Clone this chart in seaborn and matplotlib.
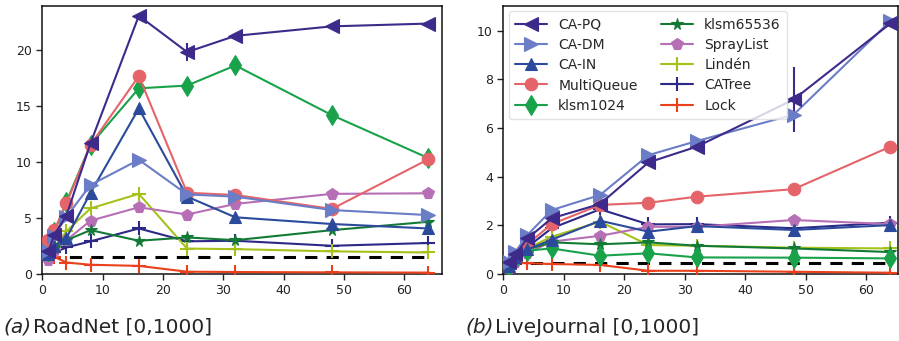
import numpy as np
import pandas as pd
import matplotlib
matplotlib.use("Agg")
import matplotlib.pyplot as plt
import seaborn as sns

threads = [1, 2, 4, 8, 16, 24, 32, 48, 64]
names = ["CA-PQ", "CA-DM", "CA-IN", "MultiQueue", "klsm1024",
         "klsm65536", "SprayList", "Lindén", "CATree", "Lock"]

# RoadNet [0,1000]
road_capq = [2.0, 3.5, 5.2, 11.7, 23.1, 19.85, 21.3, 22.15, 22.4]
road_cadm = [2.0, 3.4, 5.1, 7.95, 10.2, 7.1, 6.9, 5.7, 5.25]
road_cain = [1.8, 2.5, 3.2, 7.25, 14.8, 6.9, 5.05, 4.45, 4.05]
road_mq = [3.0, 3.9, 6.3, 11.55, 17.7, 7.25, 7.05, 5.8, 10.25]
road_k1024 = [2.0, 3.75, 6.45, 11.55, 16.6, 16.85, 18.65, 14.2, 10.35]
road_k65536 = [2.0, 2.3, 3.0, 3.9, 2.95, 3.25, 3.0, 3.9, 4.65]
road_spray = [1.2, 2.0, 3.0, 4.75, 5.95, 5.3, 6.25, 7.15, 7.2]
road_linden = [1.4, 2.4, 3.8, 5.85, 7.15, 2.25, 2.2, 2.0, 1.9]
road_catree = [1.8, 1.9, 2.35, 2.9, 4.05, 2.9, 2.95, 2.5, 2.75]
road_lock = [3.2, 1.5, 1.0, 0.8, 0.7, 0.18, 0.15, 0.12, 0.1]
road_seq = 1.5
road_capq_err = [0, 0, 0, 0.3, 0, 0.8, 0, 0, 0]

# LiveJournal [0,1000]
live_capq = [0.5, 0.8, 1.45, 2.28, 2.87, 4.58, 5.23, 7.17, 10.3]
live_cadm = [0.5, 0.9, 1.6, 2.62, 3.24, 4.88, 5.46, 6.55, 10.4]
live_cain = [0.3, 0.7, 1.0, 1.4, 2.18, 1.73, 1.96, 1.8, 2.0]
live_mq = [0.4, 0.7, 1.22, 2.04, 2.83, 2.92, 3.17, 3.48, 5.23]
live_k1024 = [0.3, 0.6, 0.95, 1.04, 0.74, 0.84, 0.67, 0.66, 0.63]
live_k65536 = [0.4, 0.7, 1.0, 1.29, 1.21, 1.29, 1.15, 1.04, 0.89]
live_spray = [0.25, 0.5, 0.85, 1.32, 1.56, 1.93, 1.93, 2.21, 2.04]
live_linden = [0.35, 0.6, 1.05, 1.52, 2.14, 1.18, 1.15, 1.07, 1.04]
live_catree = [0.4, 0.7, 1.1, 1.87, 2.65, 2.03, 2.04, 1.87, 2.1]
live_lock = [0.45, 0.45, 0.43, 0.4, 0.36, 0.12, 0.12, 0.08, 0.04]
live_seq = 0.43
live_capq_err = [0, 0, 0, 0, 0, 0, 0, 1.35, 0]

colors = ["#3d2a8a", "#6a7dc6", "#2c4a9c", "#e5646a", "#19a24a",
          "#137a36", "#b66fb5", "#a5c21a", "#2d2986", "#ea411c"]
markers = ["<", ">", "^", "o", "d", "*", "p", "+", "+", "+"]
msizes = [9.5, 9.5, 9, 9, 10, 8.5, 8.5, 10, 10, 10]

road = [road_capq, road_cadm, road_cain, road_mq, road_k1024, road_k65536,
        road_spray, road_linden, road_catree, road_lock]
live = [live_capq, live_cadm, live_cain, live_mq, live_k1024, live_k65536,
        live_spray, live_linden, live_catree, live_lock]

sns.set_style("ticks")
plt.rcParams['font.family'] = ['DejaVu Sans']

fig = plt.figure(figsize=(8.99, 3.41), dpi=100)
axL = fig.add_axes([42.3 / 899, 67.3 / 341, 399.4 / 899, 268 / 341])
axR = fig.add_axes([503.3 / 899, 67.3 / 341, 395.0 / 899, 268 / 341])


def draw(ax, data, seq, err, xmax, ymax, yticks):
    for i, (name, vals) in enumerate(zip(names, data)):
        df = pd.DataFrame({"threads": threads, "val": vals})
        sns.lineplot(data=df, x="threads", y="val", ax=ax, color=colors[i],
                     marker=markers[i], markersize=msizes[i],
                     markeredgewidth=1.5 if markers[i] == "+" else 0.8,
                     markeredgecolor=colors[i], linewidth=1.5,
                     label=name, legend=False, zorder=3 + (10 - i) * 0.01)
        if i == 0:
            ax.errorbar(threads, vals, yerr=err, fmt="none",
                        ecolor=colors[i], elinewidth=1.5, zorder=3)
    sns.lineplot(x=threads, y=[seq] * len(threads), ax=ax, color="black",
                 linestyle=(0, (4, 3)), linewidth=2.2, zorder=2)
    ax.set_xlim(0, xmax)
    ax.set_ylim(0, ymax)
    ax.set_xticks([0, 10, 20, 30, 40, 50, 60])
    ax.set_yticks(yticks)
    ax.set_xlabel("")
    ax.set_ylabel("")
    ax.tick_params(labelsize=9, length=4, width=1, colors="#222222")
    for s in ax.spines.values():
        s.set_linewidth(1.1)
        s.set_color("#111111")


draw(axL, road, road_seq, road_capq_err, 66.2, 24.0, [0, 5, 10, 15, 20])
draw(axR, live, live_seq, live_capq_err, 65.3, 11.03, [0, 2, 4, 6, 8, 10])

if axL.get_legend() is not None:
    axL.get_legend().remove()

handles, labels = axR.get_legend_handles_labels()
leg = axR.legend(handles[:10], labels[:10], ncol=2, loc="upper left",
                 fontsize=10, frameon=True, borderaxespad=0.4,
                 handlelength=2.3, labelspacing=0.45, columnspacing=1.7,
                 handletextpad=0.8, borderpad=0.45)
leg.get_frame().set_edgecolor("#dddddd")

fig.text(3 / 899, 0.04, "(a)", fontsize=14.5, style="italic", va="center")
fig.text(33 / 899, 0.04, "RoadNet [0,1000]", fontsize=14.5, va="center")
fig.text(465 / 899, 0.04, "(b)", fontsize=14.5, style="italic", va="center")
fig.text(495 / 899, 0.04, "LiveJournal [0,1000]", fontsize=14.5, va="center")

fig.savefig("out.png", dpi=100)
